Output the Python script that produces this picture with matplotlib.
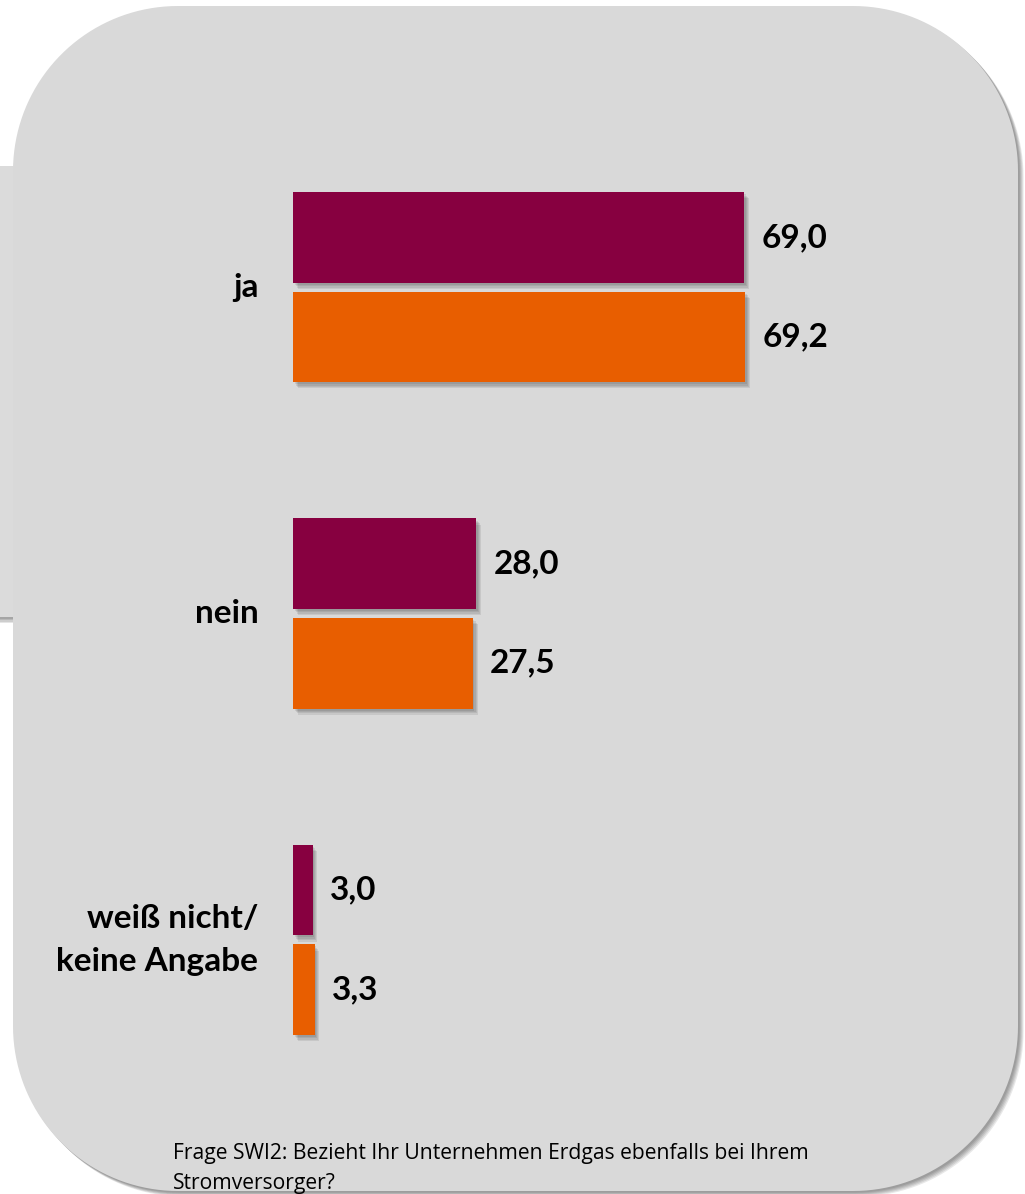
import matplotlib
matplotlib.use("Agg")
import numpy as np
import matplotlib.pyplot as plt
import matplotlib.patheffects as pe
from matplotlib.patches import Rectangle, PathPatch
from matplotlib.path import Path

categories = ["ja", "nein", "weiß nicht/\nkeine Angabe"]
series_a = [69.0, 28.0, 3.0]
series_b = [69.2, 27.5, 3.3]
labels_a = ["69,0", "28,0", "3,0"]
labels_b = ["69,2", "27,5", "3,3"]
footer_lines = ["Frage SWI2: Bezieht Ihr Unternehmen Erdgas ebenfalls bei Ihrem",
                "Stromversorger?"]

W, H = 1025, 1194
PURPLE = "#870040"
ORANGE = "#E85E00"
PANEL = "#D9D9D9"
FONT = "Lato"

fig = plt.figure(figsize=(W / 100, H / 100), dpi=100)
fig.patch.set_facecolor("white")

# background drawing axes in pixel coordinates
bg = fig.add_axes([0, 0, 1, 1])
bg.set_xlim(0, W)
bg.set_ylim(H, 0)
bg.axis("off")


def soft_shadow(dx, dy, n=4, a=0.07):
    effs = []
    for k in range(n, 0, -1):
        effs.append(pe.SimplePatchShadow(offset=(dx * k / n + 0.5, -dy * k / n - 0.5),
                                         shadow_rgbFace="black", alpha=a))
    effs.append(pe.Normal())
    return effs


def rounded_rect(x0, y0, x1, y1, r):
    # y axis inverted: y0 top, y1 bottom
    pts = []
    def arc(cx, cy, a0, a1):
        t = np.linspace(np.radians(a0), np.radians(a1), 40)
        return list(zip(cx + r * np.cos(t), cy + r * np.sin(t)))
    pts += arc(x0 + r, y0 + r, 180, 270)   # top-left
    pts += arc(x1 - r, y0 + r, 270, 360)   # top-right
    pts += arc(x1 - r, y1 - r, 0, 90)      # bottom-right
    pts += arc(x0 + r, y1 - r, 90, 180)    # bottom-left
    pts.append(pts[0])
    codes = [Path.MOVETO] + [Path.LINETO] * (len(pts) - 2) + [Path.CLOSEPOLY]
    return Path(pts, codes)


back = Rectangle((-20, 166), 240, 451, facecolor="#DBDBDB", edgecolor="none",
                 path_effects=soft_shadow(0, 4, n=4, a=0.1))
bg.add_patch(back)

panel = PathPatch(rounded_rect(13, 6, 1018, 1191, 165),
                  facecolor=PANEL, edgecolor="none",
                  path_effects=soft_shadow(3.5, 3.5, n=5, a=0.09))
bg.add_patch(panel)

for i, line in enumerate(footer_lines):
    bg.text(173, 1154 + 29 * i, line, fontsize=15.2, family="Open Sans", color="black",
            ha="left", va="center")

# chart axes
x0, x1 = 293, 1000
ytop, ybot = 124, 1103
ax = fig.add_axes([x0 / W, 1 - ybot / H, (x1 - x0) / W, (ybot - ytop) / H])
ax.set_facecolor("none")
ppu = 451 / 69.0
ax.set_xlim(0, (x1 - x0) / ppu)
ax.set_ylim(2.5, -0.5)
for s in ax.spines.values():
    s.set_visible(False)
ax.set_xticks([])
ax.set_yticks([])

bh = 90.5 / 326.33
off = 49.75 / 326.33
ys = list(range(len(categories)))
ya = [y - off for y in ys]
yb = [y + off for y in ys]
bars_a = ax.barh(ya, series_a, height=bh, color=PURPLE)
bars_b = ax.barh(yb, series_b, height=bh, color=ORANGE)
for b in list(bars_a) + list(bars_b):
    b.set_path_effects(soft_shadow(3, 4, n=4, a=0.08))

for y, v, t in zip(ya, series_a, labels_a):
    ax.annotate(t, (v, y), xytext=(12.5, 0), textcoords="offset points",
                ha="left", va="center", fontsize=24, fontweight="bold", family=FONT)
for y, v, t in zip(yb, series_b, labels_b):
    ax.annotate(t, (v, y), xytext=(12.5, 0), textcoords="offset points",
                ha="left", va="center", fontsize=24, fontweight="bold", family=FONT)

for y, c in zip(ys, categories):
    ax.annotate(c, (0, y), xytext=(-25, 0), textcoords="offset points",
                ha="right", va="center", multialignment="right",
                fontsize=24, fontweight="bold", family=FONT, linespacing=1.6)

fig.savefig("out.png", dpi=100, facecolor="white")
